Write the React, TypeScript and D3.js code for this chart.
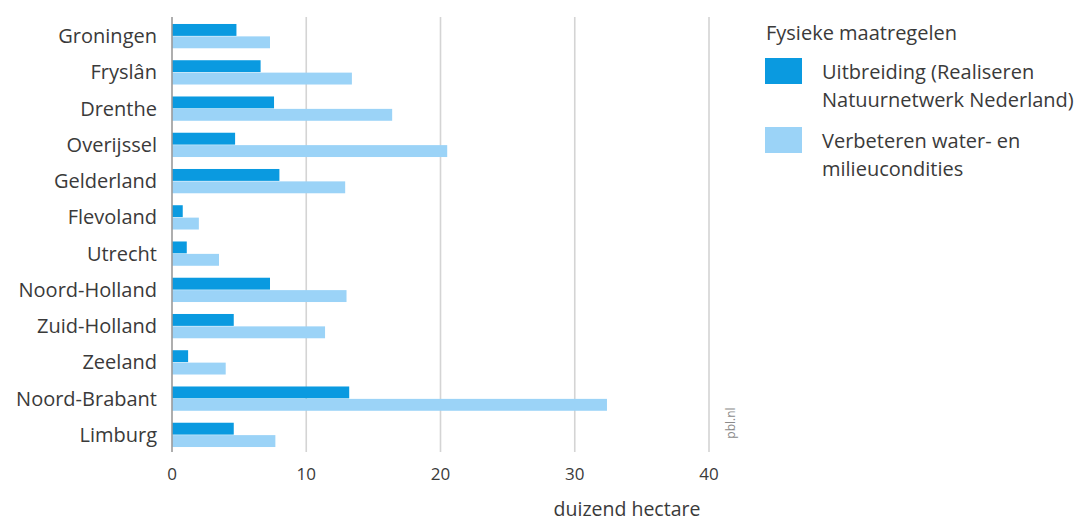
import React from "react";
import * as d3 from "d3";

const provinces = [
  "Groningen",
  "Fryslân",
  "Drenthe",
  "Overijssel",
  "Gelderland",
  "Flevoland",
  "Utrecht",
  "Noord-Holland",
  "Zuid-Holland",
  "Zeeland",
  "Noord-Brabant",
  "Limburg",
];
const uitbreiding = [4.8, 6.6, 7.6, 4.7, 8.0, 0.8, 1.1, 7.3, 4.6, 1.2, 13.2, 4.6];
const verbeteren = [7.3, 13.4, 16.4, 20.5, 12.9, 2.0, 3.5, 13.0, 11.4, 4.0, 32.4, 7.7];
const xTicks = [0, 10, 20, 30, 40];
const legendTitle = "Fysieke maatregelen";
const seriesNames = [
  ["Uitbreiding (Realiseren", "Natuurnetwerk Nederland)"],
  ["Verbeteren water- en", "milieucondities"],
];
const colors = ["#0a9ae0", "#9bd3f7"];
const axisTitle = "duizend hectare";
const source = "pbl.nl";

const W = 1079;
const H = 523;
const FONT = "'Open Sans', 'Noto Sans', sans-serif";
const TEXT = "#3a3a3a";

export default function App() {
  const x = d3.scaleLinear().domain([0, 40]).range([172, 709]);
  const y = d3
    .scaleBand<string>()
    .domain(provinces)
    .range([18, 453])
    .paddingInner(0.33)
    .paddingOuter(0.165);
  const sub = d3
    .scaleBand<number>()
    .domain([0, 1])
    .range([0, y.bandwidth()])
    .paddingInner(0.04);
  const series = [uitbreiding, verbeteren];
  const gridTop = 17;
  const gridBottom = 452;

  return (
    <div style={{ position: "absolute", left: 0, top: 0, width: W, height: H, background: "#fff" }}>
      <svg width={W} height={H} style={{ display: "block", fontFamily: FONT }}>
        <rect x={0} y={0} width={W} height={H} fill="#fff" />
        {xTicks.map((t) =>
          t === 0 ? null : (
            <line
              key={"g" + t}
              x1={x(t)}
              x2={x(t)}
              y1={gridTop}
              y2={gridBottom}
              stroke="#d4d4d4"
              strokeWidth={1.6}
            />
          )
        )}
        {provinces.map((p, i) =>
          series.map((s, k) => (
            <rect
              key={p + k}
              x={x(0)}
              y={(y(p) as number) + (sub(k) as number)}
              width={x(s[i]) - x(0)}
              height={sub.bandwidth()}
              fill={colors[k]}
            />
          ))
        )}
        <line x1={x(0)} x2={x(0)} y1={gridTop} y2={gridBottom} stroke="#9a9a9a" strokeWidth={1.6} />
        {provinces.map((p) => (
          <text
            key={"l" + p}
            x={157}
            y={(y(p) as number) + y.bandwidth() / 2}
            dy="0.35em"
            textAnchor="end"
            fontSize={20}
            fill={TEXT}
          >
            {p}
          </text>
        ))}
        {xTicks.map((t) => (
          <text key={"t" + t} x={x(t)} y={474} dy="0.35em" textAnchor="middle" fontSize={17} fill={TEXT}>
            {t}
          </text>
        ))}
        <text x={627} y={509} dy="0.35em" textAnchor="middle" fontSize={19.5} fill={TEXT}>
          {axisTitle}
        </text>
        <text
          transform={`translate(731,${423}) rotate(-90)`}
          textAnchor="middle"
          dy="0.35em"
          fontSize={12}
          fill="#8a8a8a"
        >
          {source}
        </text>
        <text x={766} y={33} dy="0.35em" fontSize={20} fill={TEXT}>
          {legendTitle}
        </text>
        {seriesNames.map((lines, k) => (
          <g key={"lg" + k} transform={`translate(765,${58 + k * 69})`}>
            <rect x={0} y={0} width={37} height={26} fill={colors[k]} />
            {lines.map((ln, j) => (
              <text key={j} x={57} y={14 + j * 28} dy="0.35em" fontSize={20} fill={TEXT}>
                {ln}
              </text>
            ))}
          </g>
        ))}
      </svg>
    </div>
  );
}
